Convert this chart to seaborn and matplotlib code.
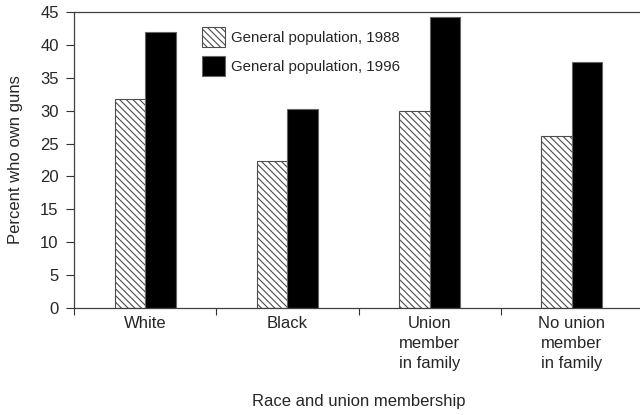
import matplotlib
matplotlib.use("Agg")
import matplotlib.pyplot as plt
import pandas as pd
import seaborn as sns

categories = ["White", "Black", "Union\nmember\nin family", "No union\nmember\nin family"]
series = ["General population, 1988", "General population, 1996"]
values_1988 = [31.7, 22.3, 30.0, 26.1]
values_1996 = [42.0, 30.2, 44.2, 37.4]
y_ticks = list(range(0, 50, 5))

df = pd.DataFrame({
    "group": categories * 2,
    "series": [series[0]] * 4 + [series[1]] * 4,
    "percent": values_1988 + values_1996,
})

sns.set_style("ticks")
plt.rcParams["font.family"] = ["Liberation Sans", "DejaVu Sans"]
plt.rcParams["hatch.linewidth"] = 0.8

fig = plt.figure(figsize=(6.4, 4.15), dpi=100)
ax = fig.add_axes([74 / 640, 1 - 308 / 415, 569 / 640, 296 / 415])

sns.barplot(
    data=df,
    x="group",
    y="percent",
    hue="series",
    order=categories,
    hue_order=series,
    palette=["white", "black"],
    width=0.43,
    edgecolor="0.4",
    linewidth=0.8,
    legend=False,
    ax=ax,
)

for bar in ax.containers[0]:
    bar.set_hatch("\\\\\\\\\\")
    bar.set_edgecolor("0.3")

ax.set_xlim(-0.5, 3.5)
ax.set_ylim(0, 45)
ax.set_yticks(y_ticks)
ax.set_yticklabels([str(t) for t in y_ticks], fontsize=12)
ax.set_xticks([-0.5, 0.5, 1.5, 2.5, 3.5])
ax.set_xticklabels([])
ax.set_xticks(range(len(categories)), minor=True)
ax.set_xticklabels(categories, minor=True, fontsize=12, linespacing=1.42)
ax.tick_params(axis="x", which="minor", length=0, pad=6)
ax.tick_params(axis="x", which="major", length=5, width=0.8, color="0.2")
ax.tick_params(axis="y", length=6, width=0.8, color="0.2", pad=5)

for side in ["left", "bottom", "top"]:
    ax.spines[side].set_color("0.25")
    ax.spines[side].set_linewidth(0.9)
ax.spines["right"].set_visible(False)

ax.set_ylabel("Percent who own guns", fontsize=12, labelpad=12)
ax.set_xlabel("Race and union membership", fontsize=12, labelpad=16)

ax.legend(
    ax.containers,
    series,
    loc="upper left",
    bbox_to_anchor=((202 - 74) / 569, (308 - 27) / 296),
    frameon=False,
    fontsize=10.8,
    borderpad=0,
    borderaxespad=0,
    handlelength=1.5,
    handleheight=1.7,
    handletextpad=0.45,
    labelspacing=0.6,
)

fig.savefig("out.png", dpi=100)
